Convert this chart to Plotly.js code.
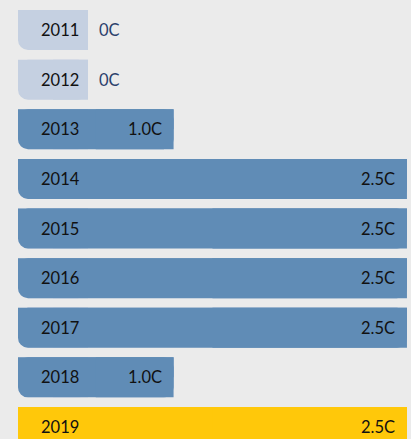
<!DOCTYPE html>
<html>
<head>
<meta charset="utf-8">
<script src="https://cdn.plot.ly/plotly-3.0.1.min.js"></script>
<style>
  html, body { margin: 0; padding: 0; background: #ebebeb; }
  #chart { width: 411px; height: 439px; }
</style>
</head>
<body>
<div id="chart"></div>
<script>
// Chart data
const years = ['2011', '2012', '2013', '2014', '2015', '2016', '2017', '2018', '2019'];
const values = [0, 0, 1.0, 2.5, 2.5, 2.5, 2.5, 1.0, 2.5];
const highlightYear = '2019';

// Styling
const blue = '#608cb6';
const light = '#c5d0e1';
const yellow = '#ffc80a';
const bg = '#ebebeb';
const xMax = 2.526;   // axis end (right edge of the plot)
const stubW = 0.45;   // light label box behind the year
const barW = 0.806;   // bar thickness in category units
const radius = 10;

let colors = years.map(y => y === highlightYear ? yellow : blue);
let labels = values.map(v => v === 0 ? '0C' : v.toFixed(1) + 'C');
let stubs = years.map(() => stubW);

// the x axis is reversed (xMax on the left, 0 on the right) and every bar ends at xMax,
// so the rounded end sits on the left; two square bars then cover the other corners
function barSet(lengths, color) {
  let base = lengths.map(v => xMax - v);
  let common = { type: 'bar', orientation: 'h', y: years, hoverinfo: 'skip', showlegend: false };
  let rounded = Object.assign({}, common, {
    x: lengths, base: base, width: barW,
    marker: { color: color, cornerradius: radius, line: { width: 0 } },
  });
  // upper half, square corners
  let top = Object.assign({}, common, {
    x: lengths, base: base, width: barW / 2, offset: -barW / 2,
    marker: { color: color, line: { width: 0 } },
  });
  // right half, square corners
  let right = Object.assign({}, common, {
    x: lengths.map(v => v / 2), base: base, width: barW,
    marker: { color: color, line: { width: 0 } },
  });
  return [rounded, top, right];
}

let data = barSet(stubs, light).concat(barSet(values, colors));

let font = { family: 'Lato, "Open Sans", sans-serif', size: 16.5, color: '#111111' };
let annotations = [];
years.forEach((y, i) => {
  annotations.push({
    x: xMax, y: i, xref: 'x', yref: 'y', text: y, showarrow: false,
    xanchor: 'left', yanchor: 'middle', xshift: 21, font: font,
  });
  if (values[i] === 0) {
    annotations.push({
      x: xMax - stubW, y: i, xref: 'x', yref: 'y', text: labels[i], showarrow: false,
      xanchor: 'left', yanchor: 'middle', xshift: 9,
      font: Object.assign({}, font, { color: '#2b3f6c' }),
    });
  } else {
    annotations.push({
      x: xMax - values[i], y: i, xref: 'x', yref: 'y', text: labels[i], showarrow: false,
      xanchor: 'right', yanchor: 'middle', xshift: -10, font: font,
    });
  }
});

let layout = {
  width: 411, height: 439,
  margin: { l: 18, r: 0, t: 0, b: 0 },
  paper_bgcolor: bg, plot_bgcolor: bg,
  barmode: 'overlay',
  showlegend: false,
  xaxis: { range: [xMax, 0], visible: false, fixedrange: true },
  yaxis: { type: 'category', range: [8.242, -0.605], visible: false, fixedrange: true },
  annotations: annotations,
  font: font,
};

Plotly.newPlot('chart', data, layout, { displayModeBar: false, staticPlot: true });
</script>
</body>
</html>
